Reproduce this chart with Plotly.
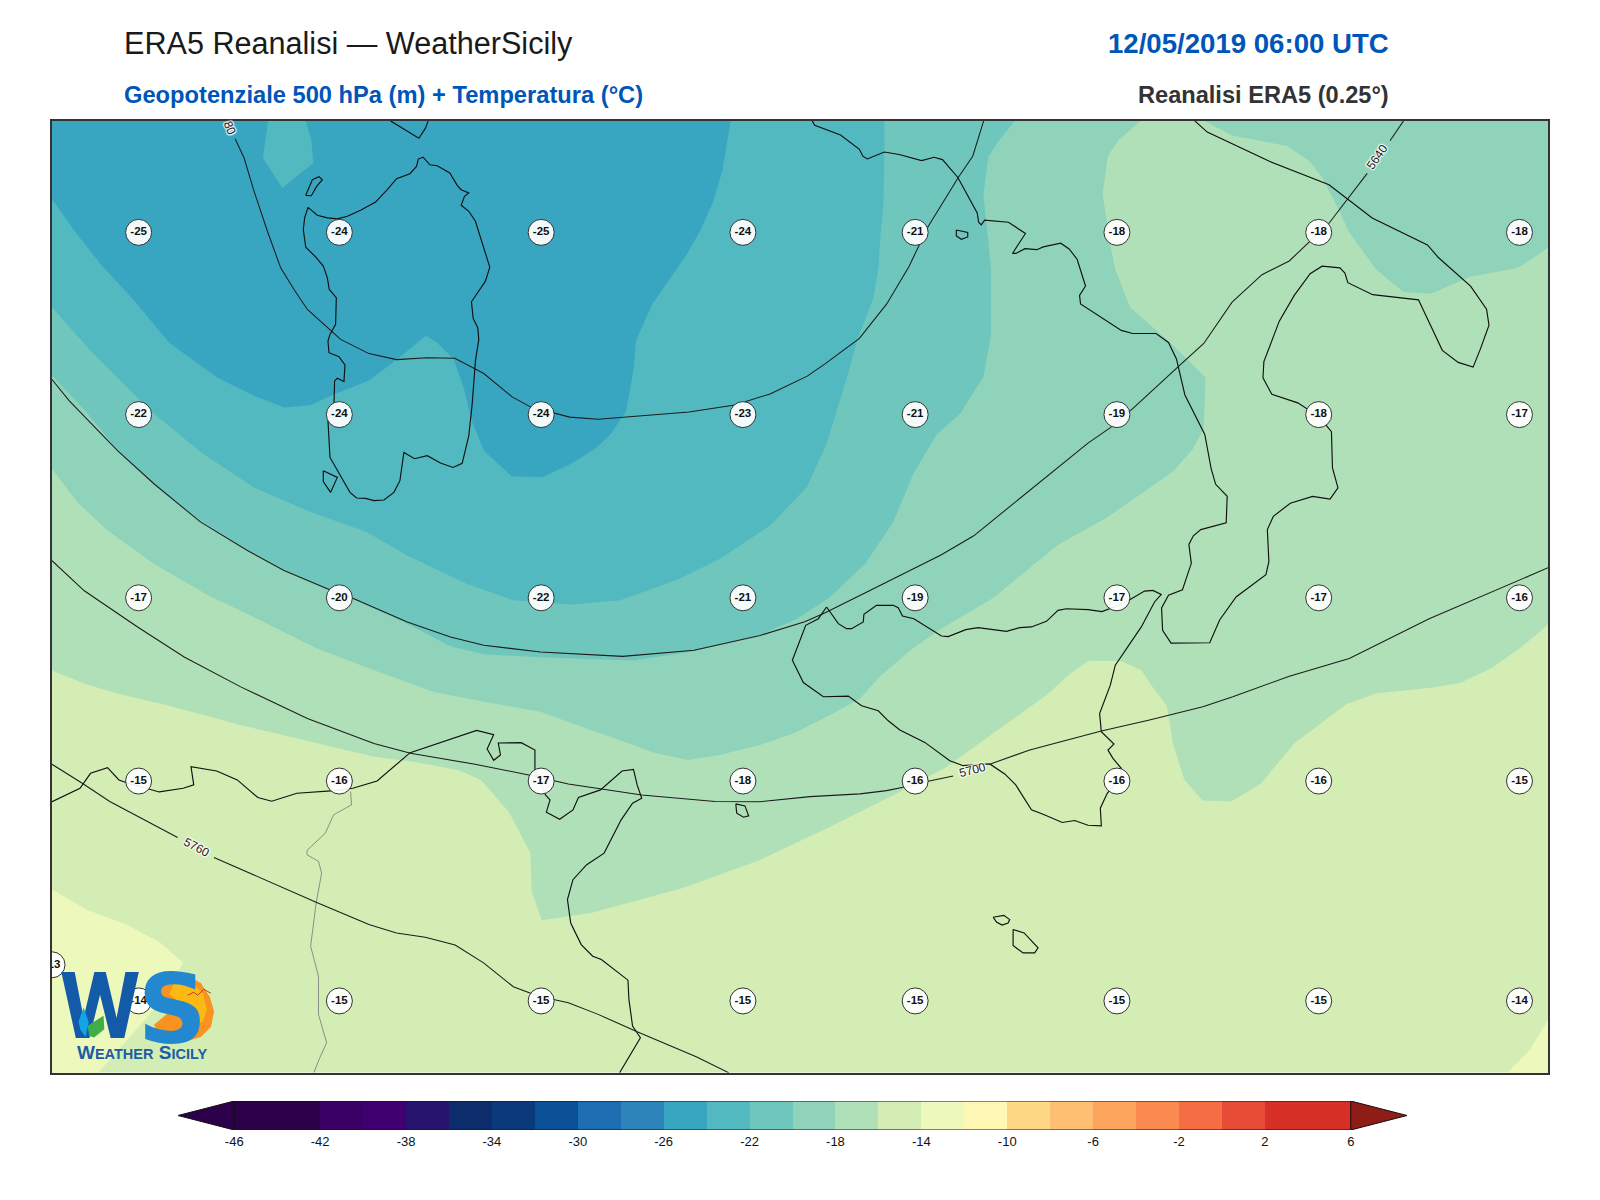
import plotly.graph_objects as go

# ---- page geometry (browser body offset is 8 px) ----
PAGE_W, PAGE_H, OFF = 1584, 1184, 8

# ---- colour levels ----
LEVELS = list(range(-46, 8, 2))
LEVEL_COLORS = ["#2d004b", "#2d004b", "#3a0066", "#40006f", "#26146e", "#0c2c6c", "#0a3a7c",
                "#0a5096", "#1e6db2", "#2c84ba", "#39a6c1", "#51b9bf", "#6fc6bd", "#8fd3ba",
                "#b0e0b8", "#d3edb5", "#edf8bb", "#fff8b5", "#fed885", "#febf73", "#fda45d",
                "#fa8a50", "#f46d43", "#e64c36", "#d73027", "#d73027"]
CB_TICKS = list(range(-46, 10, 4))
UNDER_COLOR, OVER_COLOR = "#2d004b", "#8e1d17"

# ---- temperature bands (map grid units), listed from warm to cold ----
BAND_M16 = [(50, 117), (1518, 117), (1518, 1052), (50, 1052)]
BAND_M14_SW = [(50, 872), (84, 892), (122, 906), (156, 924), (179, 944), (150, 990), (115, 1030),
               (95, 1052), (50, 1052)]
BAND_M14_SE = [(1518, 1000), (1500, 1030), (1478, 1052), (1518, 1052)]
BAND_M18 = [(50, 657), (82, 670), (114, 679.5), (163, 691), (235, 710.5), (310, 728.5), (366, 741.6),
            (405, 746.5), (449, 755), (471, 764.4), (498, 795.4), (519.4, 836), (520.7, 874), (530.6, 902.3),
            (579, 895), (669, 870.6), (745, 843), (810, 812), (839.5, 797), (882, 776), (928, 751.4),
            (960, 728.5), (996, 702), (1026, 681), (1049, 660), (1067, 647.5), (1099, 647.5), (1119, 656.6),
            (1130, 673), (1144, 692), (1150, 728.5), (1161, 764), (1179, 784.7), (1207, 785.6), (1236, 768.3),
            (1269, 728.5), (1320, 690), (1349, 679.5), (1405, 673.6), (1432.5, 669), (1463.5, 654),
            (1490, 635.4), (1518, 612), (1518, 117), (50, 117)]
BAND_M20 = [(50, 459), (75, 491.6), (104.5, 519.4), (150, 552), (203, 583), (248, 604.4), (310, 635.4),
            (366, 656.6), (425, 678), (474, 687.7), (529, 697.5), (597, 722), (642, 738), (674, 744.8),
            (705, 740), (745, 730), (777.5, 718.7), (817, 699), (843, 684.4), (862, 663), (893.5, 636),
            (920, 617.4), (974, 585.4), (1006, 559), (1037, 533.7), (1086, 506), (1149.5, 462), (1169, 440),
            (1180, 420), (1182, 369.4), (1149.5, 337), (1108, 300), (1093.4, 263), (1088.6, 239.4),
            (1081, 189), (1086, 151.7), (1096, 136.5), (1118, 117), (50, 117)]
BAND_M20_NE = [(1181, 117), (1208, 131.4), (1262, 141.6), (1284, 156.7), (1296, 172), (1310, 199),
               (1322.6, 226), (1349.4, 263), (1376, 285), (1403, 286.7), (1442, 270), (1488, 261.4),
               (1509, 248), (1518, 241), (1518, 117)]
BAND_M22 = [(50, 367), (82, 401), (114, 440), (150, 473), (196, 510), (242, 538), (278, 558), (320, 577),
            (346, 587), (398.6, 611), (441, 633), (474, 641), (529, 644), (620, 647), (680, 638), (745, 622),
            (781, 606), (812, 586), (848, 552), (875.5, 511), (895, 464), (918, 425), (941, 405), (964, 368),
            (971.5, 327), (971.5, 263), (964, 189), (969, 152), (979, 136.5), (995, 117), (50, 117)]
BAND_M24 = [(50, 300), (88, 343), (147, 402), (196, 442.6), (248, 477), (300.6, 500), (359.4, 521),
            (398.6, 544), (457.4, 572), (503, 588), (560, 592), (607.6, 588), (663, 568), (705.6, 547),
            (754.6, 514.5), (790.6, 477), (810, 434.5), (830, 369), (841, 330), (856, 291), (861, 261),
            (863, 229), (866, 196), (867, 117), (50, 117)]
BAND_M26 = [(50, 194), (72, 225), (98, 258), (131, 294), (165, 335), (212, 369), (248, 387), (278, 398.6),
            (304, 396), (327, 385.5), (361, 372), (389, 351), (417, 328), (428, 335), (444, 351), (454, 379),
            (462, 412), (474, 441), (501, 466), (531, 467), (559, 454), (583, 439), (598, 425), (613.5, 402),
            (621, 359), (623, 333), (639, 297), (673, 248), (686, 225), (699, 196), (708, 165), (716, 117),
            (50, 117)]
BAND_M24_PATCH = [(262, 117), (257, 153.5), (276, 183), (306.4, 158.4), (304.5, 135.6), (299, 117)]

# ---- coastlines ----
SARDINIA = [(301.2, 201.9), (310.4, 209.7), (320.2, 212.3), (330, 213.3), (339.8, 210.7), (352.8, 204.8),
            (367.5, 196.7), (379, 184.6), (388.1, 173.8), (401.2, 168.9), (407.7, 161.7), (409.4, 154.5),
            (414.2, 152.6), (420.8, 160.1), (428, 161), (440.4, 168.2), (447.6, 180.3), (451.5, 184.6),
            (459, 187.8), (454.8, 191.1), (451.5, 199.9), (459, 205.8), (465.5, 215.6), (473.7, 241.7),
            (479.6, 260.7), (475.3, 274.4), (461.6, 294.7), (463.3, 311), (467.8, 320.2), (468.8, 331.6),
            (465.5, 352.8), (462.3, 395.3), (459, 426.3), (452.5, 453.4), (443.6, 457.4), (431.2, 453.1),
            (418.2, 445.9), (405.8, 448.9), (395.3, 442.7), (391.4, 470.4), (385.5, 481.9), (375.7, 489.4),
            (365.9, 490), (357.7, 487.8), (348.9, 487.4), (342.4, 481.9), (334.9, 468.8), (322.8, 447.6),
            (320.8, 411.6), (326.7, 395.3), (327.3, 372.4), (330, 369.8), (336.5, 373.1), (337.5, 356.7),
            (331.6, 348.6), (321.8, 344.7), (320.8, 333.2), (322.8, 326.7), (328.3, 316.9), (329, 290.7),
            (322.1, 282.6), (320.2, 271.2), (316.2, 259.7), (308.7, 250.6), (299, 241.1), (296.6, 223.8),
            (297.9, 212.3), (301.2, 201.9)]
CORSICA_TIP = [(382.2, 117), (410, 134), (416.5, 124.1), (419.1, 117)]
ASINARA = [(299, 190.1), (304.5, 190.5), (309.7, 181.3), (315.3, 174.8), (312, 171.8), (305.5, 174.8), (299, 190.1)]
SANTANTIOCO = [(316.2, 460.6), (330, 467.2), (323.4, 481.9), (316.2, 471.4), (316.2, 460.6)]
ITALY = [(796, 117), (798.4, 121.3), (823.8, 130.8), (842.3, 144.9), (845.7, 151.7), (850.1, 154.4),
         (866.7, 147.6), (881.3, 150), (903.3, 156), (915.5, 152.7), (923.8, 155), (938.9, 172.6),
         (957.9, 207.4), (959.3, 216.5), (961.8, 219.2), (965.2, 214.5), (988.6, 216.5), (1005.2, 227.6),
         (992.5, 247.2), (995.9, 247.2), (1004.7, 242.5), (1016.4, 243.5), (1022.7, 240.8), (1039.8, 237.1),
         (1048.1, 242.8), (1055.9, 252.9), (1064.2, 279.2), (1058.3, 288.4), (1059.3, 296.8), (1099.3, 322.8),
         (1110.5, 325.8), (1133.4, 325.8), (1145.6, 334.6), (1153.4, 350.8), (1161.7, 386.2), (1181.2, 425),
         (1187.5, 458.8), (1191.9, 474), (1203.2, 485.8), (1202.2, 511.8), (1177.3, 518.5), (1170, 524.6),
         (1165.6, 533), (1168, 551.6), (1159.3, 577.6), (1145.6, 583), (1138.8, 595.5), (1139.8, 617.4),
         (1148.1, 630), (1186.1, 629.6), (1195.8, 607.3), (1211.9, 584.7), (1241.2, 562.7), (1244.1, 549.9),
         (1242.6, 518.5), (1248.5, 505.4), (1265.1, 492.6), (1287, 485.8), (1304.1, 488.5), (1311.9, 477.4),
         (1306.5, 457.8), (1305.5, 422.3), (1293.3, 407.5), (1272.4, 394), (1247, 385.6), (1238.3, 369.4),
         (1239.2, 353.5), (1254.3, 313.7), (1269, 288.4), (1284.6, 267.1), (1296.3, 259.7), (1313.8, 261.4),
         (1318.7, 266.4), (1321.6, 275.9), (1346, 287.7), (1390.9, 292.8), (1414.3, 342.4), (1429.9, 354.2),
         (1444.5, 358.9), (1451.8, 340.7), (1460.1, 317.7), (1457.7, 301.9), (1442, 279.3), (1410.4, 251.2),
         (1399.7, 238.8), (1345.5, 212.4), (1303.1, 179.7), (1244.6, 156.7), (1183.6, 128), (1171.4, 117)]
ELBA = [(937.4, 224.2), (948.6, 226.6), (948.6, 231), (942.3, 233.3), (937.4, 230), (937.4, 224.2)]
SICILY = [(810.1, 594.5), (821.6, 610.9), (829.7, 615.8), (834.6, 615.8), (846.1, 609.2), (846.7, 601.7),
          (859.1, 592.9), (875.5, 592.9), (880.4, 595.2), (884.6, 603.4), (895.7, 606), (922.8, 623),
          (929.4, 623.6), (946.7, 616.8), (958.8, 614.8), (986.6, 618.4), (999.6, 614.8), (1011.1, 614.1),
          (1025.8, 608.6), (1037.2, 597.8), (1045.4, 596.2), (1066.6, 597.1), (1080.3, 599.1), (1100.9, 591.3),
          (1122.1, 578.9), (1130.3, 578.2), (1138.5, 582.1), (1131.9, 589.6), (1118.9, 614.1), (1093.4, 651.7),
          (1088.5, 671.3), (1078, 699.1), (1079.7, 717), (1092.1, 729.1), (1086.2, 735), (1091.1, 743.2),
          (1099.2, 753), (1099.2, 761.1), (1085.5, 777.5), (1078.7, 792.2), (1079.7, 809.5), (1066.6, 808.9),
          (1053.5, 804.3), (1041.4, 806.2), (1022.5, 798.1), (1011.1, 793.8), (995.7, 769.3), (984.9, 758.5),
          (970.2, 748.7), (944.1, 750.4), (931, 745.5), (906.5, 727.5), (882, 715.4), (870.6, 706.3),
          (860.8, 696.5), (844.4, 691.6), (831.4, 682.1), (806.9, 682.7), (787.3, 668.7), (776.5, 646.8),
          (789.6, 612.5), (802, 606), (810.1, 594.5)]
GOZO = [(973.5, 899.3), (984, 897.4), (989.8, 901.6), (988.2, 905), (982.3, 907), (976.8, 903.9), (973.5, 899.3)]
MALTA = [(993.1, 911.4), (1003.9, 914.7), (1017.6, 929.4), (1014.3, 934.3), (1002.9, 934.3), (993.1, 927.1), (993.1, 911.4)]
PANTELLERIA = [(721, 787.9), (730, 789.9), (733.6, 799.7), (728.6, 801), (721.9, 797.1), (721, 787.9)]
AFRICA = [(50, 785.8), (77.5, 772.6), (87.8, 757.9), (104.5, 752.3), (115.7, 764.4), (124.7, 767.7),
          (155.3, 776.2), (178.7, 772.6), (189.1, 769.3), (186.4, 751.3), (211.6, 755.6), (231.8, 764.4),
          (252, 781.7), (265.6, 785.3), (290.3, 777.5), (327.2, 774.9), (345.2, 772.6), (369, 765.4),
          (401.5, 737.6), (466.7, 715.7), (483.4, 720), (477, 734), (483.4, 745.1), (490.1, 739.9),
          (487.9, 728.1), (510.4, 727.8), (523.9, 735), (523.9, 754.6), (534.2, 779.1), (538.7, 784),
          (535.1, 796.1), (548.2, 803), (561.2, 793.8), (566.6, 781.7), (588.2, 774.2), (609.4, 755.6),
          (620.6, 754), (624.2, 769.3), (628.7, 782.4), (619.7, 787.3), (608.5, 803.6), (591.8, 836.3),
          (574.7, 847.7), (561.2, 862.4), (555.8, 882), (559, 904.9), (569.3, 926.1), (580.6, 937.6),
          (589.1, 940.8), (615.2, 961.1), (616.1, 980), (619.7, 1006.2), (627.4, 1017.6), (615.2, 1038.2),
          (607, 1052)]
BORDER_ALG_TUN = [(343, 775.8), (343.9, 788.9), (326.3, 798.7), (318.2, 816.7), (300.2, 833.7), (300.2, 837.9),
                  (311.5, 844.4), (314.6, 855.9), (309.2, 885.3), (303.8, 927.8), (311.5, 957.2), (311.5, 994.7),
                  (319.5, 1022.5), (312.4, 1038.2), (307, 1052)]

# ---- geopotential isolines ----
Z5580 = [(229.7, 134.6), (238.5, 153.5), (248.3, 186.2), (261.4, 225.4), (274.4, 261.4), (287.5, 282.6),
         (300.6, 302.2), (316.9, 316.9), (333.2, 331.6), (361, 345.6), (388.1, 351.5), (418.2, 349.6),
         (445.3, 350.2), (473.7, 365.2), (501.5, 388.1), (519.4, 397.9), (558, 408), (586, 410), (640, 406),
         (675, 403), (720, 396), (744.8, 387.9), (754.6, 385.2), (791.1, 367.7), (808.2, 355.9), (842.3, 330.6),
         (869.1, 296.8), (891.1, 259.7), (900.8, 239.4), (909.6, 220.9), (939.8, 171.9), (953.5, 151.7),
         (964.2, 117)]
Z5640_A = [(50, 371), (67, 392), (114.3, 441), (150.3, 473.7), (196, 511.2), (241.8, 539), (277.7, 558.6),
           (320.2, 576.6), (346.3, 586.4), (398.6, 609.3), (441, 624), (473.7, 632.1), (529.3, 638.7),
           (610, 643), (680, 637), (744.8, 622.5), (788.7, 609), (808.2, 600.5), (852.1, 578.6), (888.6, 560),
           (922.8, 543.2), (954.5, 524.6), (983.7, 501), (1013, 477.4), (1066.6, 433.5), (1088.6, 418.3),
           (1110.5, 399.7), (1154.4, 359.2), (1180.2, 335.6), (1208, 295.1), (1237.3, 268.1), (1264.1, 254.6),
           (1303.1, 217.5), (1340.6, 168.6)]
Z5640_B = [(1363, 136.5), (1376.2, 117)]
Z5700_A = [(50, 549), (81.7, 578.6), (134, 614.2), (179.7, 643.6), (235.2, 673), (300.6, 704), (365.9, 728.5),
           (401.8, 738.3), (463.9, 748.8), (517.8, 759.5), (556.7, 768.3), (628.7, 779.1), (700.7, 785.6),
           (744.8, 785.8), (793.8, 780.8), (842.8, 778.1), (869, 774.9), (885.3, 771.6), (909.8, 765.7), (934.3, 760.5)]
Z5700_B = [(970.9, 748.7), (1009.4, 735), (1079.7, 716.4), (1127, 705.6), (1179.3, 692.5), (1208.7, 682.7),
           (1264.2, 662.5), (1323, 645.2), (1401.4, 606), (1488, 568.4), (1518, 556)]
Z5760_A = [(50, 749), (79.7, 767.7), (106.7, 785.6), (173.3, 820.9)]
Z5760_B = [(208.9, 840.5), (309.2, 884.6), (361, 906.5), (388, 914.7), (416.3, 918.9), (445.6, 926.5),
           (473.5, 944.1), (502.7, 967.6), (527.5, 976.8), (556.7, 983.3), (585.9, 994.7), (624.2, 1011.7),
           (682.7, 1036.6), (714, 1052)]

# ---- isoline labels ----
ISO_TEXT = ["80", "5640", "5700", "5760"]
ISO_X = [224.5, 1350.4, 953.2, 191.3]
ISO_Y = [124, 152.7, 754.6, 830.7]
ISO_ANGLE = [68, -55, -15, 28]

# ---- temperature read-outs ----
COL_X = [135, 332, 530, 728, 897, 1095, 1293, 1490]
ROW_Y = [226.5, 405.5, 585.5, 765.5, 981.5]
ROW_T = [[-25, -24, -25, -24, -21, -18, -18, -18],
         [-22, -24, -24, -23, -21, -19, -18, -17],
         [-17, -20, -22, -21, -19, -17, -17, -16],
         [-15, -16, -17, -18, -16, -16, -16, -15],
         [-14, -15, -15, -15, -15, -15, -15, -14]]
EXTRA_X, EXTRA_Y, EXTRA_T = [50], [946], [-13]

# ---- logo outlines ----
LOGO_SUN = [(165, 954), (180, 955), (196, 964), (205, 978), (209, 992), (206, 1007), (196, 1017), (182, 1021),
            (165, 1021), (155, 1015), (150, 1005), (168, 990), (150, 975)]
LOGO_SUN_IN = [(172, 958), (186, 962), (198, 974), (202, 990), (198, 1002), (186, 1007), (180, 990), (172, 980),
               (165, 975)]
LOGO_LEAF = [(85, 1006), (100.6, 996), (101.3, 1009.4), (91.4, 1017.5), (86.5, 1016), (85, 1006)]
LOGO_DROP = [(81, 988), (86, 1002), (83, 1017), (78, 1010), (76, 1002), (81, 988)]
LOGO_BIRD = [(183, 976), (189, 973), (193, 976), (199, 970), (206, 974)]


def px_x(v):
    return (v - OFF) / PAGE_W


def px_y(v):
    return 1 - (v - OFF) / PAGE_H


def xy(pts):
    return [p[0] for p in pts], [p[1] for p in pts]


fig = go.Figure()


def band(pts, color):
    x, y = xy(pts)
    fig.add_trace(go.Scatter(x=x, y=y, mode="lines", fill="toself", fillcolor=color, line=dict(width=0),
                             hoverinfo="skip", showlegend=False))


def polyline(pts, color="#111111", width=1.15):
    x, y = xy(pts)
    fig.add_trace(go.Scatter(x=x, y=y, mode="lines", line=dict(color=color, width=width), hoverinfo="skip",
                             showlegend=False))


for pts, col in [(BAND_M16, "#d3edb5"), (BAND_M14_SW, "#edf8bb"), (BAND_M14_SE, "#edf8bb"), (BAND_M18, "#b0e0b8"),
                 (BAND_M20, "#8fd3ba"), (BAND_M20_NE, "#8fd3ba"), (BAND_M22, "#6fc6bd"), (BAND_M24, "#51b9bf"),
                 (BAND_M26, "#39a6c1"), (BAND_M24_PATCH, "#51b9bf")]:
    band(pts, col)

polyline(BORDER_ALG_TUN, "#777777", 0.8)
for pts in [SARDINIA, CORSICA_TIP, ASINARA, SANTANTIOCO, ITALY, ELBA, SICILY, GOZO, MALTA, PANTELLERIA, AFRICA]:
    polyline(pts)
for pts in [Z5580, Z5640_A, Z5640_B, Z5700_A, Z5700_B, Z5760_A, Z5760_B]:
    polyline(pts, "#1c1c1c", 1.05)

lab_x = [x for _ in ROW_Y for x in COL_X] + EXTRA_X
lab_y = [y for y in ROW_Y for _ in COL_X] + EXTRA_Y
lab_t = [str(t) for row in ROW_T for t in row] + [str(t) for t in EXTRA_T]
fig.add_trace(go.Scatter(x=lab_x, y=lab_y, mode="markers+text", text=lab_t, textposition="middle center",
                         textfont=dict(family="Liberation Sans", size=11.5, color="#111111", weight="bold"),
                         marker=dict(size=26, color="rgba(255,255,255,0.93)", line=dict(color="#333333", width=1)),
                         hoverinfo="skip", showlegend=False))

# logo
band(LOGO_SUN, "#f7931e")
band(LOGO_SUN_IN, "#fdb913")
fig.add_trace(go.Scatter(x=[97], y=[995], mode="text", text=["W"], textposition="middle center",
                         textfont=dict(family="Liberation Sans Narrow, Roboto", size=92, color="#135aa8", weight="bold"),
                         hoverinfo="skip", showlegend=False))
fig.add_trace(go.Scatter(x=[168], y=[999], mode="text", text=["S"], textposition="middle center",
                         textfont=dict(family="DejaVu Sans", size=96, color="#2488d0", weight="bold"),
                         hoverinfo="skip", showlegend=False))
band(LOGO_DROP, "#12a5e6")
band(LOGO_LEAF, "#3fae49")
polyline(LOGO_BIRD, "#b5431b", 1)

# colour bar
CB_CENTERS = [v + 1 for v in LEVELS[:-1]]
fig.add_trace(go.Bar(x=CB_CENTERS, y=[1] * len(CB_CENTERS), width=[2] * len(CB_CENTERS), xaxis="x2", yaxis="y2",
                     marker=dict(color=LEVEL_COLORS, line=dict(width=0)), hoverinfo="skip", showlegend=False))
fig.add_trace(go.Scatter(x=[-46, -48.62, -46, -46], y=[0, 0.5, 1, 0], xaxis="x2", yaxis="y2", mode="lines",
                         fill="toself", fillcolor=UNDER_COLOR, line=dict(color="#111111", width=1), hoverinfo="skip",
                         showlegend=False))
fig.add_trace(go.Scatter(x=[6, 8.62, 6, 6], y=[0, 0.5, 1, 0], xaxis="x2", yaxis="y2", mode="lines", fill="toself",
                         fillcolor=OVER_COLOR, line=dict(color="#111111", width=1), hoverinfo="skip", showlegend=False))
fig.add_trace(go.Scatter(x=[-46, 6, None, -46, 6], y=[1, 1, None, 0, 0], xaxis="x2", yaxis="y2", mode="lines",
                         line=dict(color="#111111", width=1.2), hoverinfo="skip", showlegend=False))

ann = []
for txt, x, y, ang in zip(ISO_TEXT, ISO_X, ISO_Y, ISO_ANGLE):
    ann.append(dict(x=x, y=y, xref="x", yref="y", text=txt, showarrow=False, textangle=ang, xanchor="center",
                    yanchor="middle",
                    font=dict(family="Liberation Sans", size=12, color="#222222",
                              shadow="1px 1px 1px #fff, -1px -1px 1px #fff, 1px -1px 1px #fff, -1px 1px 1px #fff")))


def head(text, x, y, size, color, anchor, bold):
    ann.append(dict(x=px_x(x), y=px_y(y), xref="paper", yref="paper", text=text, showarrow=False, xanchor=anchor,
                    yanchor="middle", font=dict(family="Liberation Sans", size=size, color=color,
                                                weight="bold" if bold else "normal")))


head("ERA5 Reanalisi — WeatherSicily", 122, 43, 30.6, "#1a1a1a", "left", False)
head("12/05/2019 06:00 UTC", 1391, 44, 27.6, "#0055b8", "right", True)
head("Geopotenziale 500 hPa (m) + Temperatura (°C)", 122, 95, 23.7, "#0055b8", "left", True)
head("Reanalisi ERA5 (0.25°)", 1391, 95, 23.6, "#333333", "right", True)
ann.append(dict(x=138, y=1032, xref="x", yref="y", showarrow=False, xanchor="center", yanchor="middle",
                text="W<span style='font-size:14.5px'>EATHER</span> S<span style='font-size:14.5px'>ICILY</span>",
                font=dict(family="Liberation Sans", size=19, color="#1b5da6", weight="bold")))

AXIS_COMMON = dict(showgrid=False, zeroline=False, showticklabels=False, ticks="", showline=True, mirror=True,
                   linecolor="#333333", linewidth=1.5)
fig.update_layout(
    width=PAGE_W, height=PAGE_H, autosize=False, margin=dict(l=0, r=0, t=0, b=0), paper_bgcolor="white",
    plot_bgcolor="white", bargap=0, showlegend=False, annotations=ann,
    font=dict(family="Liberation Sans", color="#111111"),
    xaxis=dict(range=[50, 1518], domain=[px_x(52), px_x(1548)], **AXIS_COMMON),
    yaxis=dict(range=[1052, 117], domain=[px_y(1072.7), px_y(120.9)], **AXIS_COMMON),
    xaxis2=dict(range=[-48.62, 8.62], domain=[px_x(178), px_x(1407)], anchor="y2", showgrid=False, zeroline=False,
                showline=False, tickmode="array", tickvals=CB_TICKS, ticktext=[str(t) for t in CB_TICKS], ticks="",
                tickfont=dict(family="Liberation Sans", size=13, color="#111111"), ticklabelstandoff=2),
    yaxis2=dict(range=[0, 1], domain=[px_y(1130), px_y(1101)], anchor="x2", showgrid=False, zeroline=False,
                showline=False, showticklabels=False, ticks=""),
)
fig.write_html("out.html")
